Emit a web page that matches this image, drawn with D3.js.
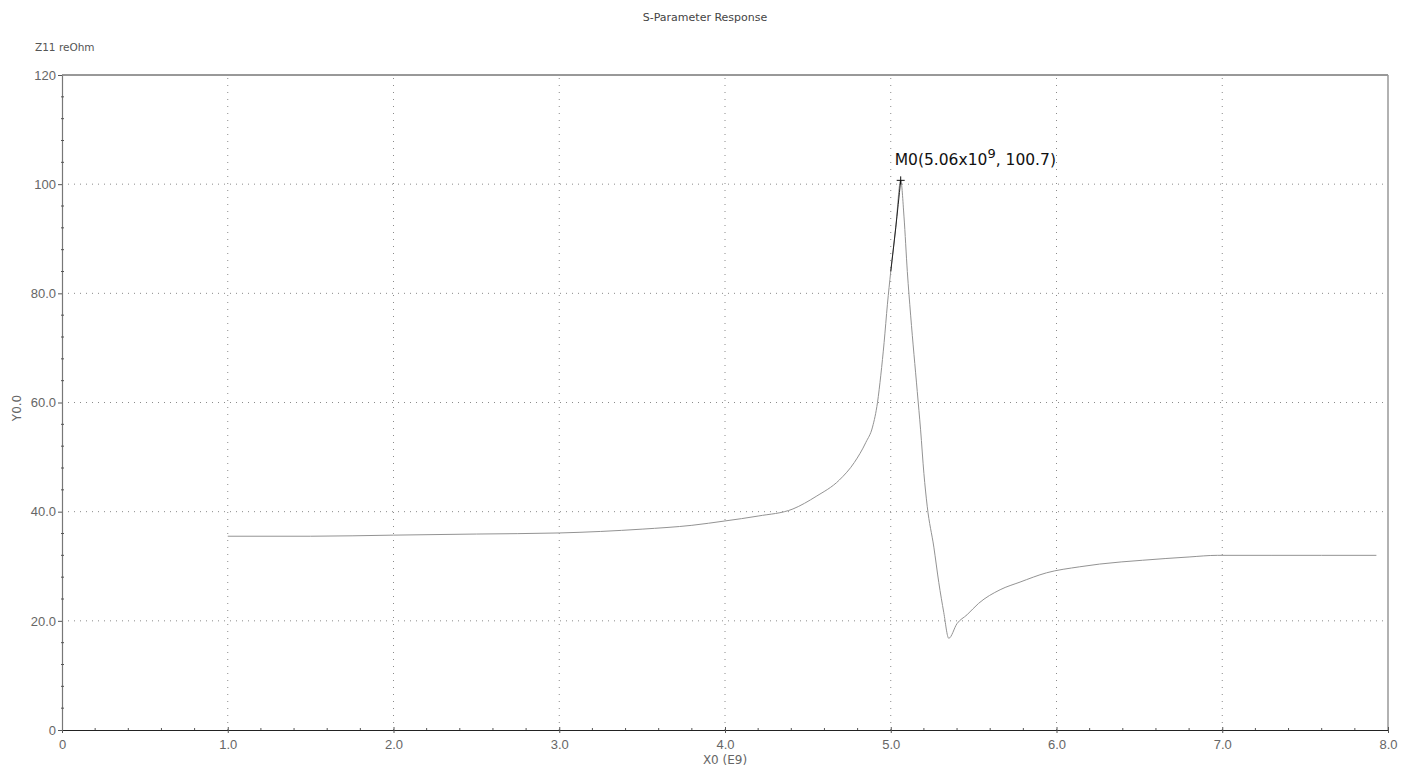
<!DOCTYPE html>
<html>
<head>
<meta charset="utf-8">
<script src="https://cdn.jsdelivr.net/npm/d3@7"></script>
<style>
  html, body { margin: 0; padding: 0; background: #fff; }
  svg { display: block; font-family: "DejaVu Sans", sans-serif; }
</style>
</head>
<body>
<div id="svgOutput"></div>
<script>
// data

const freqGHz = [1.0, 1.5, 2.0, 2.5, 3.0, 3.5, 3.8, 4.0, 4.2, 4.41, 4.55, 4.69, 4.78, 4.85, 4.89,
  4.92, 4.94, 4.96, 4.98, 5.00, 5.03, 5.06, 5.08, 5.10, 5.12, 5.16, 5.18, 5.20, 5.22,
  5.26, 5.29, 5.32, 5.35, 5.40, 5.46, 5.53, 5.66, 5.78, 5.94, 6.14, 6.26, 6.52, 6.80, 6.97,
  7.30, 7.60, 7.93];
const z11Re = [35.5, 35.5, 35.7, 35.9, 36.1, 36.8, 37.5, 38.3, 39.2, 40.5, 42.8, 45.8, 49.0, 52.7, 55.5,
  60.0, 65.0, 71.0, 78.0, 84.0, 92.0, 100.7, 94.0, 84.0, 76.0, 62.0, 55.0, 47.0, 41.0,
  33.5, 27.0, 21.5, 16.8, 19.5, 21.1, 23.2, 25.7, 27.1, 28.8, 29.9, 30.4, 31.1, 31.7, 32.0,
  32.0, 32.0, 32.0];

const xTicks = [0, 1, 2, 3, 4, 5, 6, 7, 8];
const xTickLabels = ["0", "1.0", "2.0", "3.0", "4.0", "5.0", "6.0", "7.0", "8.0"];
const yTicks = [0, 20, 40, 60, 80, 100, 120];
const yTickLabels = ["0", "20.0", "40.0", "60.0", "80.0", "100", "120"];

const markerX = 5.06;
const markerY = 100.7;

// config

const width = 1416;
const height = 771;
const margin = { top: 75, right: 28, bottom: 41, left: 62 };

const svg = d3.select("#svgOutput")
  .append("svg")
  .attr("width", width)
  .attr("height", height);

// scales

const x = d3.scaleLinear().domain([0, 8]).range([margin.left, width - margin.right]);
const y = d3.scaleLinear().domain([0, 120]).range([height - margin.bottom, margin.top]);

// dotted grid

svg.append("g")
  .selectAll("line")
  .data(yTicks.filter(d => d > 0 && d < 120))
  .enter().append("line")
  .attr("x1", x(0)).attr("x2", x(8))
  .attr("y1", d => y(d)).attr("y2", d => y(d))
  .attr("stroke", "#8a8a8a")
  .attr("stroke-width", 1)
  .attr("stroke-dasharray", "1,5");

svg.append("g")
  .selectAll("line")
  .data(xTicks.filter(d => d > 0 && d < 8))
  .enter().append("line")
  .attr("x1", d => x(d)).attr("x2", d => x(d))
  .attr("y1", y(0)).attr("y2", y(120))
  .attr("stroke", "#8a8a8a")
  .attr("stroke-width", 1)
  .attr("stroke-dasharray", "1,6");

// frame

svg.append("line")
  .attr("x1", x(0)).attr("x2", x(8)).attr("y1", y(120)).attr("y2", y(120))
  .attr("stroke", "#333").attr("stroke-width", 1);
svg.append("line")
  .attr("x1", x(8)).attr("x2", x(8)).attr("y1", y(120)).attr("y2", y(0))
  .attr("stroke", "#999").attr("stroke-width", 1.5);

// axes

const xAxis = d3.axisBottom(x)
  .tickValues(xTicks)
  .tickFormat((d, i) => xTickLabels[i])
  .tickSize(4)
  .tickSizeOuter(0);

const gx = svg.append("g")
  .attr("transform", `translate(0,${y(0)})`)
  .call(xAxis);
gx.select(".domain").attr("stroke", "#222").attr("stroke-width", 1.2);
gx.selectAll(".tick line").attr("stroke", "#555").attr("y1", -3).attr("y2", 3);
gx.selectAll(".tick text")
  .attr("fill", "#666").attr("font-size", 13).attr("dy", "0.9em");

const yAxis = d3.axisLeft(y)
  .tickValues(yTicks)
  .tickFormat((d, i) => yTickLabels[i])
  .tickSize(4)
  .tickSizeOuter(0);

const gy = svg.append("g")
  .attr("transform", `translate(${x(0)},0)`)
  .call(yAxis);
gy.select(".domain").attr("stroke", "#777").attr("stroke-width", 1.2);
gy.selectAll(".tick line").attr("stroke", "#555");
gy.selectAll(".tick text")
  .attr("fill", "#666").attr("font-size", 13).attr("x", -6);

// minor ticks

svg.append("g")
  .selectAll("line")
  .data(d3.range(0, 120, 4).filter(d => d % 20 !== 0))
  .enter().append("line")
  .attr("x1", x(0) - 1).attr("x2", x(0) + 2)
  .attr("y1", d => y(d)).attr("y2", d => y(d))
  .attr("stroke", "#555");

svg.append("g")
  .selectAll("line")
  .data(d3.range(0, 8, 0.2).filter(d => Math.abs(d - Math.round(d)) > 0.01))
  .enter().append("line")
  .attr("x1", d => x(d)).attr("x2", d => x(d))
  .attr("y1", y(0)).attr("y2", y(0) - 2)
  .attr("stroke", "#555");

// the curve

const pts = freqGHz.map((f, i) => ({ f: f, v: z11Re[i] }));

const line = d3.line()
  .x(d => x(d.f))
  .y(d => y(d.v))
  .curve(d3.curveMonotoneX);

svg.append("path")
  .datum(pts)
  .attr("fill", "none")
  .attr("stroke", "#939393")
  .attr("stroke-width", 1)
  .attr("d", line);

// darker stretch up to the marker
svg.append("path")
  .datum(pts.filter(d => d.f >= 4.99 && d.f <= markerX))
  .attr("fill", "none")
  .attr("stroke", "#222")
  .attr("stroke-width", 1)
  .attr("d", line);

// marker

const mx = x(markerX);
const my = y(markerY);
svg.append("path")
  .attr("d", `M${mx - 4},${my}H${mx + 4}M${mx},${my - 4}V${my + 4}`)
  .attr("stroke", "#111")
  .attr("stroke-width", 1);

const mLabel = svg.append("text")
  .attr("x", mx - 6)
  .attr("y", my - 15)
  .attr("font-size", 15.5)
  .attr("fill", "#111");
mLabel.append("tspan").text("M0(" + (markerX).toFixed(2) + "x10");
mLabel.append("tspan").attr("dy", -7).attr("font-size", 13).text("9");
mLabel.append("tspan").attr("dy", 7).text(", " + markerY.toFixed(1) + ")");

// titles

svg.append("text")
  .attr("x", 705).attr("y", 21)
  .attr("text-anchor", "middle")
  .attr("font-size", 11)
  .attr("fill", "#444")
  .text("S-Parameter Response");

svg.append("text")
  .attr("x", 35).attr("y", 51)
  .attr("font-size", 10.5)
  .attr("fill", "#555")
  .text("Z11 reOhm");

svg.append("text")
  .attr("x", x(4)).attr("y", 764)
  .attr("text-anchor", "middle")
  .attr("font-size", 12)
  .attr("fill", "#666")
  .text("X0 (E9)");

svg.append("text")
  .attr("transform", `translate(21,${y(59)}) rotate(-90)`)
  .attr("text-anchor", "middle")
  .attr("font-size", 12)
  .attr("fill", "#666")
  .text("Y0.0");
</script>
</body>
</html>
